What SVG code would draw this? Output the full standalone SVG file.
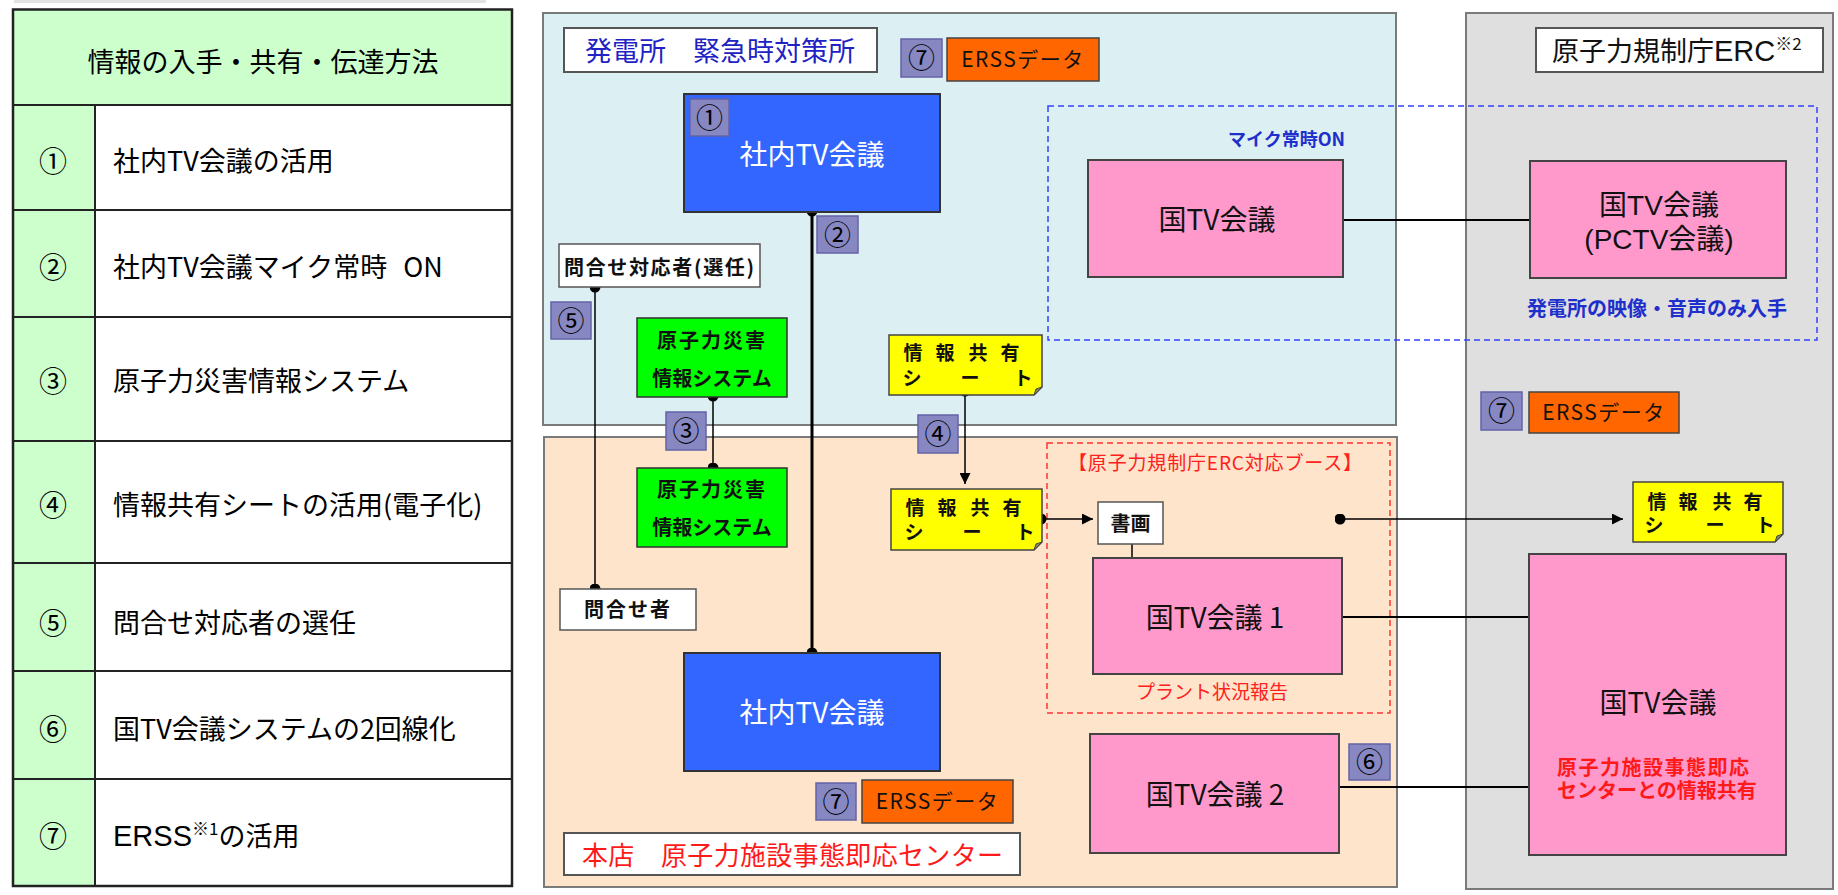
<svg xmlns="http://www.w3.org/2000/svg" width="1838" height="895" viewBox="0 0 1838 895">
<defs>
<style>
text{font-family:"Noto Sans CJK JP","Noto Sans",sans-serif;}
.ml{font-family:"Liberation Sans","Noto Sans CJK JP",sans-serif;}
.tb{font-size:27px;fill:#000;}
.num{font-size:28px;fill:#000;text-anchor:middle;}
.panel{stroke:#7a7a7a;stroke-width:2;}
.title{fill:#fff;stroke:#555;stroke-width:2;}
.badge{fill:#8787C2;stroke:#6363A8;stroke-width:1.5;}
.bt{font-size:27px;fill:#000;text-anchor:middle;}
.erss{fill:#FF6600;stroke:#444;stroke-width:1.5;}
.et{font-size:21px;fill:#111;text-anchor:middle;letter-spacing:1.5px;}
.blue{fill:#3366FF;stroke:#333;stroke-width:2;}
.wt{font-size:28px;fill:#fff;text-anchor:middle;}
.pink{fill:#FF99CC;stroke:#444;stroke-width:2;}
.kt{font-size:28px;fill:#111;text-anchor:middle;}
.green{fill:#00FF00;stroke:#333;stroke-width:1.5;}
.gt{font-size:20px;font-weight:bold;fill:#111;text-anchor:middle;}
.white{fill:#fff;stroke:#555;stroke-width:1.5;}
.sheet{fill:#FFFF00;stroke:#444;stroke-width:1.5;}
.fold{fill:#8C8C55;stroke:#444;stroke-width:1;}
.st{font-size:19px;font-weight:bold;fill:#111;text-anchor:middle;}
.line{stroke:#000;fill:none;}
</style>
<marker id="dot" viewBox="0 0 10 10" refX="5" refY="5" markerWidth="11" markerHeight="11" markerUnits="userSpaceOnUse"><circle cx="5" cy="5" r="5" fill="#000"/></marker>
<marker id="arr" viewBox="0 0 10 10" refX="10" refY="5" markerWidth="11" markerHeight="11" markerUnits="userSpaceOnUse" orient="auto"><path d="M0,0 L10,5 L0,10 Z" fill="#000"/></marker>
</defs>
<rect x="0" y="0" width="1838" height="895" fill="#fff"/>
<rect x="14" y="0" width="472" height="3" fill="#e2e2e2"/>

<!-- Left table -->
<g id="table">
<rect x="13" y="9.5" width="499" height="876.5" fill="#fff"/>
<rect x="13" y="9.5" width="499" height="95.5" fill="#CCFFCC"/>
<rect x="13" y="105" width="82" height="781" fill="#CCFFCC"/>
<g stroke="#222" stroke-width="2" fill="none">
<rect x="13" y="9.5" width="499" height="876.5" stroke-width="2.5"/>
<line x1="13" y1="105" x2="512" y2="105"/>
<line x1="95" y1="105" x2="95" y2="886"/>
<line x1="13" y1="210" x2="512" y2="210"/>
<line x1="13" y1="317" x2="512" y2="317"/>
<line x1="13" y1="441" x2="512" y2="441"/>
<line x1="13" y1="563" x2="512" y2="563"/>
<line x1="13" y1="671" x2="512" y2="671"/>
<line x1="13" y1="779" x2="512" y2="779"/>
</g>
<text class="tb" x="263" y="72" text-anchor="middle">情報の入手・共有・伝達方法</text>
<text class="num" x="53" y="172">①</text>
<text class="tb" x="113" y="171">社内TV会議の活用</text>
<text class="num" x="53" y="278">②</text>
<text class="tb" x="113" y="277">社内TV会議マイク常時<tspan dx="16">ON</tspan></text>
<text class="num" x="53" y="392">③</text>
<text class="tb" x="113" y="391">原子力災害情報システム</text>
<text class="num" x="53" y="516">④</text>
<text class="tb" x="113" y="515">情報共有シートの活用(電子化)</text>
<text class="num" x="53" y="634">⑤</text>
<text class="tb" x="113" y="633">問合せ対応者の選任</text>
<text class="num" x="53" y="740">⑥</text>
<text class="tb" x="113" y="739">国TV会議システムの2回線化</text>
<text class="num" x="53" y="847">⑦</text>
<text class="tb" x="113" y="846"><tspan font-family="Liberation Sans" font-size="29">ERSS</tspan><tspan font-size="17" dy="-11">※1</tspan><tspan dy="11">の活用</tspan></text>
</g>

<!-- Panels -->
<g id="panel-plant">
<rect class="panel" x="543" y="13" width="853" height="412" fill="#DCEFF2"/>
</g>
<g id="panel-hq">
<rect class="panel" x="544" y="437" width="853" height="450" fill="#FDE4CA"/>
</g>
<g id="panel-erc">
<rect class="panel" x="1466" y="13" width="367" height="876" fill="#DFDFDF"/>
</g>

<!-- Dashed zones -->
<g id="zone-mic">
<rect x="1048" y="106" width="769" height="234" fill="none" stroke="#3344FF" stroke-width="1.5" stroke-dasharray="6,4"/>
<text x="1345" y="146" font-size="18" font-weight="bold" fill="#1F2FCC" text-anchor="end">マイク常時ON</text>
<text x="1657" y="316" font-size="20" font-weight="bold" fill="#1F2FCC" text-anchor="middle">発電所の映像・音声のみ入手</text>
</g>
<g id="zone-booth">
<rect x="1047" y="443" width="343" height="270" fill="none" stroke="#FF3333" stroke-width="1.5" stroke-dasharray="6,4"/>
<text x="1068" y="470" font-size="19" fill="#FF2020" textLength="294">【原子力規制庁ERC対応ブース】</text>
<text x="1212" y="699" font-size="19" fill="#FF2020" text-anchor="middle">プラント状況報告</text>
</g>

<!-- Titles -->
<g id="title-plant">
<rect class="title" x="564" y="28" width="313" height="44"/>
<text x="585" y="61" font-size="27" fill="#2121C4" textLength="270">発電所　緊急時対策所</text>
</g>
<g id="title-erc">
<rect class="title" x="1536" y="28" width="287" height="44"/>
<text x="1552" y="61" font-size="27" fill="#111">原子力規制庁<tspan font-family="Liberation Sans" font-size="29">ERC</tspan><tspan font-size="17" dy="-11">※2</tspan></text>
</g>
<g id="title-hq">
<rect class="title" x="564" y="833" width="456" height="42"/>
<text x="582" y="865" font-size="26" fill="#FF1A1A" textLength="421">本店　原子力施設事態即応センター</text>
</g>

<!-- Connectors -->
<g id="connectors">
<line class="line" x1="812" y1="211" x2="812" y2="653" stroke-width="3" marker-start="url(#dot)" marker-end="url(#dot)"/>
<line class="line" x1="595" y1="287" x2="595" y2="589" stroke-width="1.5" marker-start="url(#dot)" marker-end="url(#dot)"/>
<line class="line" x1="713" y1="396" x2="713" y2="468" stroke-width="1.5" marker-start="url(#dot)" marker-end="url(#dot)"/>
<line class="line" x1="965" y1="391" x2="965" y2="484" stroke-width="1.5" marker-start="url(#dot)" marker-end="url(#arr)"/>
<line class="line" x1="1041" y1="519" x2="1093" y2="519" stroke-width="1.5" marker-start="url(#dot)" marker-end="url(#arr)"/>
<line class="line" x1="1132" y1="544" x2="1132" y2="558" stroke-width="1.5"/>
<line class="line" x1="1340" y1="519" x2="1623" y2="519" stroke-width="1.5" marker-start="url(#dot)" marker-end="url(#arr)"/>
<line class="line" x1="1343" y1="220" x2="1530" y2="220" stroke-width="2"/>
<line class="line" x1="1342" y1="617" x2="1529" y2="617" stroke-width="2"/>
<line class="line" x1="1339" y1="787" x2="1529" y2="787" stroke-width="2"/>
</g>

<!-- Plant nodes -->
<g id="plant-tv">
<rect class="blue" x="684" y="94" width="256" height="118"/>
<text class="wt" x="812" y="165">社内TV会議</text>
</g>
<g id="badge-1"><rect class="badge" x="690" y="99" width="39" height="37"/><text class="bt" x="709.5" y="128">①</text></g>
<g id="badge-2"><rect class="badge" x="817" y="216" width="41" height="37"/><text class="bt" x="837.5" y="245">②</text></g>
<g id="badge-7a"><rect class="badge" x="901" y="39" width="41" height="38"/><text class="bt" x="921.5" y="68">⑦</text></g>
<g id="erss-plant"><rect class="erss" x="947" y="38" width="152" height="43"/><text class="et" x="1023" y="67">ERSSデータ</text></g>
<g id="plant-contact">
<rect class="white" x="559" y="244" width="201" height="43"/>
<text x="564" y="275" font-size="20" font-weight="bold" fill="#111" textLength="190">問合せ対応者(選任)</text>
</g>
<g id="badge-5"><rect class="badge" x="551" y="302" width="40" height="37"/><text class="bt" x="571" y="331">⑤</text></g>
<g id="plant-system">
<rect class="green" x="637" y="318" width="150" height="79"/>
<text class="gt"><tspan x="712" y="348" letter-spacing="2">原子力災害</tspan><tspan x="712" y="386">情報システム</tspan></text>
</g>
<g id="badge-3"><rect class="badge" x="666" y="412" width="40" height="38"/><text class="bt" x="686" y="441">③</text></g>
<g id="plant-sheet" transform="translate(889,335)">
<path class="sheet" d="M0,0 H153 V52 L145,60 H0 Z"/>
<path class="fold" d="M145,60 L147,54 L153,52 Z"/>
<text class="st ml"><tspan x="24" y="25">情</tspan><tspan x="56" y="25">報</tspan><tspan x="89" y="25">共</tspan><tspan x="121" y="25">有</tspan><tspan x="23" y="50">シ</tspan><tspan x="81" y="50">ー</tspan><tspan x="134" y="50">ト</tspan></text>
</g>
<g id="badge-4"><rect class="badge" x="918" y="415" width="40" height="38"/><text class="bt" x="938" y="444">④</text></g>
<g id="plant-govtv">
<rect class="pink" x="1088" y="160" width="255" height="117"/>
<text class="kt" x="1217" y="230">国TV会議</text>
</g>

<!-- HQ nodes -->
<g id="hq-system">
<rect class="green" x="637" y="468" width="150" height="79"/>
<text class="gt"><tspan x="712" y="497" letter-spacing="2">原子力災害</tspan><tspan x="712" y="535">情報システム</tspan></text>
</g>
<g id="hq-sheet" transform="translate(891,489)">
<path class="sheet" d="M0,0 H151 V53 L143,61 H0 Z"/>
<path class="fold" d="M143,61 L145,55 L151,53 Z"/>
<text class="st ml"><tspan x="24" y="26">情</tspan><tspan x="56" y="26">報</tspan><tspan x="89" y="26">共</tspan><tspan x="121" y="26">有</tspan><tspan x="23" y="50">シ</tspan><tspan x="81" y="50">ー</tspan><tspan x="134" y="50">ト</tspan></text>
</g>
<g id="hq-contact">
<rect class="white" x="560" y="589" width="136" height="41"/>
<text x="628" y="617" font-size="20" font-weight="bold" fill="#111" text-anchor="middle" letter-spacing="2">問合せ者</text>
</g>
<g id="hq-tv">
<rect class="blue" x="684" y="653" width="256" height="118"/>
<text class="wt" x="812" y="723">社内TV会議</text>
</g>
<g id="badge-7b"><rect class="badge" x="816" y="783" width="40" height="37"/><text class="bt" x="836" y="812">⑦</text></g>
<g id="erss-hq"><rect class="erss" x="862" y="780" width="151" height="43"/><text class="et" x="937.5" y="809">ERSSデータ</text></g>
<g id="hq-shoga">
<rect class="white" x="1098" y="502" width="65" height="42"/>
<text x="1130.5" y="531" font-size="20" font-weight="bold" fill="#111" text-anchor="middle">書画</text>
</g>
<g id="hq-govtv1">
<rect class="pink" x="1093" y="558" width="249" height="116"/>
<text class="kt" x="1215" y="628">国TV会議 1</text>
</g>
<g id="hq-govtv2">
<rect class="pink" x="1090" y="734" width="249" height="119"/>
<text class="kt" x="1215" y="805">国TV会議 2</text>
</g>
<g id="badge-6"><rect class="badge" x="1349" y="744" width="41" height="36"/><text class="bt" x="1369.5" y="772">⑥</text></g>

<!-- ERC nodes -->
<g id="erc-pctv">
<rect class="pink" x="1530" y="161" width="256" height="117"/>
<text class="kt ml"><tspan x="1659" y="215">国TV会議</tspan><tspan x="1659" y="249">(PCTV会議)</tspan></text>
</g>
<g id="badge-7c"><rect class="badge" x="1481" y="392" width="41" height="38"/><text class="bt" x="1501.5" y="421">⑦</text></g>
<g id="erss-erc"><rect class="erss" x="1529" y="392" width="150" height="41"/><text class="et" x="1604" y="420">ERSSデータ</text></g>
<g id="erc-sheet" transform="translate(1633,482)">
<path class="sheet" d="M0,0 H150 V52 L142,60 H0 Z"/>
<path class="fold" d="M142,60 L144,54 L150,52 Z"/>
<text class="st ml"><tspan x="24" y="27">情</tspan><tspan x="55" y="27">報</tspan><tspan x="89" y="27">共</tspan><tspan x="120" y="27">有</tspan><tspan x="21" y="50">シ</tspan><tspan x="82" y="50">ー</tspan><tspan x="132" y="50">ト</tspan></text>
</g>
<g id="erc-govtv">
<rect class="pink" x="1529" y="554" width="257" height="301"/>
<text class="kt" x="1658" y="713">国TV会議</text>
<text class="ml" font-size="20" font-weight="bold" fill="#FF1A1A"><tspan x="1557" y="775" letter-spacing="1.5">原子力施設事態即応</tspan><tspan x="1557" y="798">センターとの情報共有</tspan></text>
</g>
</svg>
